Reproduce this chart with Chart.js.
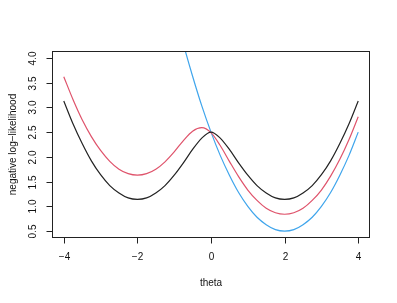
<!DOCTYPE html>
<html><head><meta charset="utf-8">
<script src="https://cdn.jsdelivr.net/npm/chart.js@4"></script>
<style>html,body{margin:0;padding:0;background:#fff}canvas{display:block}</style>
</head><body>
<canvas id="c" width="397" height="303"></canvas>
<script>
const theta = [-4,-3.75,-3.5,-3.25,-3,-2.75,-2.5,-2.25,-2,-1.75,-1.5,-1.25,-1,-0.75,-0.5,-0.25,0,0.25,0.5,0.75,1,1.25,1.5,1.75,2,2.25,2.5,2.75,3,3.25,3.5,3.75,4];
const nllBlack = [3.13,2.67,2.27,1.92,1.64,1.42,1.27,1.17,1.14,1.17,1.27,1.42,1.63,1.88,2.15,2.38,2.50,2.38,2.15,1.88,1.63,1.42,1.27,1.17,1.14,1.17,1.27,1.42,1.64,1.92,2.27,2.67,3.13];
const nllRed = [3.62,3.16,2.75,2.41,2.13,1.91,1.75,1.66,1.63,1.66,1.75,1.90,2.10,2.33,2.52,2.59,2.49,2.23,1.91,1.60,1.33,1.12,0.96,0.87,0.84,0.87,0.96,1.12,1.33,1.61,1.95,2.35,2.81];
const nllBlue = [null,null,null,null,null,null,null,null,null,null,null,null,5.0,4.28,3.63,3.03,2.5,2.03,1.63,1.28,1.0,0.78,0.63,0.53,0.5,0.53,0.63,0.78,1.0,1.28,1.63,2.03,2.5];
const xTicks = [-4,-2,0,2,4];
const xTickLabels = ["\u22124","\u22122","0","2","4"];
const yTicks = [0.5,1.0,1.5,2.0,2.5,3.0,3.5,4.0];
const yTickLabels = ["0.5","1.0","1.5","2.0","2.5","3.0","3.5","4.0"];
const xTitle = "theta";
const yTitle = "negative log\u2212likelihood";

function pts(arr){ return theta.map((t,i)=>({x:t,y:arr[i]})); }

const FONT = '10px "Liberation Sans", Arial, sans-serif';

const rAxes = {
  id:'rAxes',
  afterDraw(chart){
    const ctx = chart.ctx, a = chart.chartArea;
    const xs = chart.scales.x, ys = chart.scales.y;
    ctx.save();
    ctx.strokeStyle = '#222'; ctx.lineWidth = 1;
    const L = Math.round(a.left)+0.5, R = Math.round(a.right)-0.5, T = Math.round(a.top)+0.5, B = Math.round(a.bottom)-0.5;
    ctx.strokeRect(L, T, R-L, B-T);
    ctx.fillStyle = '#111'; ctx.font = FONT;
    ctx.textAlign = 'center'; ctx.textBaseline = 'middle';
    xTicks.forEach((t,i)=>{
      const px = Math.round(xs.getPixelForValue(t))+0.5;
      ctx.beginPath(); ctx.moveTo(px,B); ctx.lineTo(px,B+6); ctx.stroke();
      ctx.fillText(xTickLabels[i], px, B+20);
    });
    yTicks.forEach((v,i)=>{
      const py = Math.round(ys.getPixelForValue(v))+0.5;
      ctx.beginPath(); ctx.moveTo(L,py); ctx.lineTo(L-6,py); ctx.stroke();
      ctx.save(); ctx.translate(L-19, py); ctx.rotate(-Math.PI/2);
      ctx.fillText(yTickLabels[i], 0, 0); ctx.restore();
    });
    ctx.fillText(xTitle, (a.left+a.right)/2, 283);
    ctx.save(); ctx.translate(13, (a.top+a.bottom)/2); ctx.rotate(-Math.PI/2);
    ctx.fillText(yTitle, 0, 0); ctx.restore();
    ctx.restore();
  }
};

const ds = (arr,col)=>({data:pts(arr), borderColor:col, borderWidth:1.2, pointRadius:0, showLine:true, fill:false, cubicInterpolationMode:'monotone', spanGaps:false});

new Chart(document.getElementById('c'), {
  type:'scatter',
  data:{datasets:[ds(nllBlack,'#222222'), ds(nllRed,'#DF536B'), ds(nllBlue,'#3FA5EC')]},
  options:{
    responsive:false, animation:false, devicePixelRatio:1,
    layout:{padding:{left:52,right:27,top:51,bottom:65}},
    plugins:{legend:{display:false}, tooltip:{enabled:false}},
    scales:{
      x:{type:'linear', min:-4.32, max:4.32, display:false},
      y:{type:'linear', min:0.36, max:4.14, display:false}
    }
  },
  plugins:[rAxes]
});
</script>
</body></html>
